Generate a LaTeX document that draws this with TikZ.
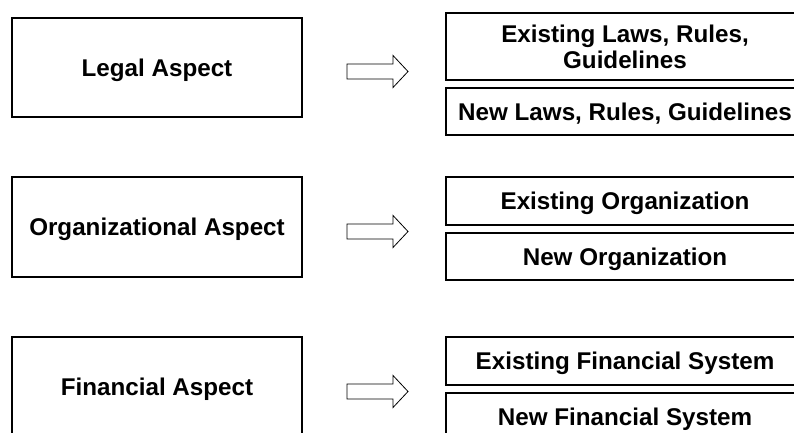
\documentclass[tikz,border=0pt]{standalone}
\usepackage{fontspec}
\setmainfont{Liberation Sans}
\usepackage{tikz}
\usetikzlibrary{positioning,calc}
\tikzset{
  aspect/.style={draw, line width=1.2pt, minimum width=290pt, minimum height=100pt, inner sep=0pt,
    text depth=0pt, font=\fontsize{24.2}{26}\selectfont\bfseries, align=center},
  detail/.style={draw, line width=1.2pt, minimum width=358pt, inner sep=0pt,
    text depth=0pt, font=\fontsize{24.2}{26}\selectfont\bfseries, align=center},
  blockarrow/.style={draw, line width=0.8pt, fill=white}
}

\begin{document}
\begin{tikzpicture}[x=1pt,y=-1pt]
      \clip (0,0) rectangle (794,433);
      \useasboundingbox (0,0) rectangle (794,433);

      % legal
      \node[aspect, minimum height=99pt] (legal) at (157,67.5) {Legal Aspect};
      \node[detail, minimum height=67pt] (legal old) at (625,46.5) {Existing Laws, Rules,\\Guidelines};
      \node[detail, minimum height=47pt] (legal new) at (625,111.5) {New Laws, Rules, Guidelines};
      \coordinate (legal arrow) at (347,71.5);
      \draw[blockarrow] (legal arrow) ++(0,-7.5) -- ++(46,0) -- ++(0,-8.5) -- ++(15,16) -- ++(-15,16) -- ++(0,-8.5) -- ++(-46,0) -- cycle;

      % organizational
      \node[aspect] (organization) at (157,227) {Organizational Aspect};
      \node[detail, minimum height=48pt] (organization old) at (625,201) {Existing Organization};
      \node[detail, minimum height=47pt] (organization new) at (625,256.5) {New Organization};
      \coordinate (organization arrow) at (347,231.5);
      \draw[blockarrow] (organization arrow) ++(0,-7.5) -- ++(46,0) -- ++(0,-8.5) -- ++(15,16) -- ++(-15,16) -- ++(0,-8.5) -- ++(-46,0) -- cycle;

      % financial
      \node[aspect] (financial) at (157,387) {Financial Aspect};
      \node[detail, minimum height=48pt] (financial old) at (625,361) {Existing Financial System};
      \node[detail, minimum height=47pt] (financial new) at (625,416.5) {New Financial System};
      \coordinate (financial arrow) at (347,391.5);
      \draw[blockarrow] (financial arrow) ++(0,-7.5) -- ++(46,0) -- ++(0,-8.5) -- ++(15,16) -- ++(-15,16) -- ++(0,-8.5) -- ++(-46,0) -- cycle;

    \end{tikzpicture}
\end{document}
